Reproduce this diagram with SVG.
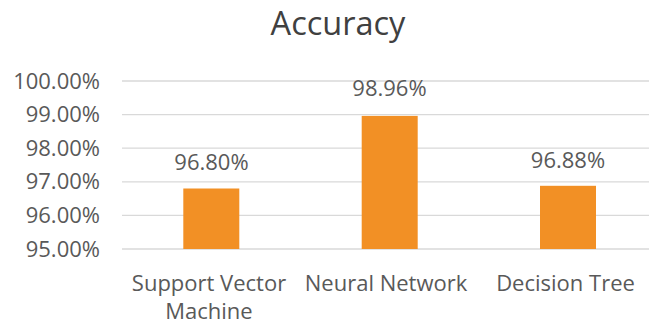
<svg xmlns="http://www.w3.org/2000/svg" width="649" height="326" viewBox="0 0 649 326">
<style>
.t{font-family:"Open Sans","Liberation Sans",sans-serif;fill:#595959;font-size:22px}
.grid line{stroke:#D9D9D9;stroke-width:1.3}
.bar{fill:#F29025}
.ttl{font-family:"Open Sans","Liberation Sans",sans-serif;fill:#404040;font-size:32.5px}
</style>
<rect width="649" height="326" fill="#fff"/>
<text class="ttl" x="338" y="35" text-anchor="middle">Accuracy</text>
<g class="grid">
<line x1="122" y1="81" x2="649" y2="81"/>
<line x1="122" y1="114.6" x2="649" y2="114.6"/>
<line x1="122" y1="148.2" x2="649" y2="148.2"/>
<line x1="122" y1="181.8" x2="649" y2="181.8"/>
<line x1="122" y1="215.4" x2="649" y2="215.4"/>
<line x1="122" y1="249" x2="649" y2="249"/>
</g>
<g id="yaxis" text-anchor="end">
<text class="t" x="100" y="88.5">100.00%</text>
<text class="t" x="100" y="122.1">99.00%</text>
<text class="t" x="100" y="155.7">98.00%</text>
<text class="t" x="100" y="189.3">97.00%</text>
<text class="t" x="100" y="222.9">96.00%</text>
<text class="t" x="100" y="256.5">95.00%</text>
</g>
<g id="svm">
<rect class="bar" x="183.3" y="188.5" width="56" height="60.5"/>
<text class="t" x="211.5" y="170" text-anchor="middle">96.80%</text>
<text class="t" x="209" y="291" text-anchor="middle">Support Vector</text>
<text class="t" x="209" y="319" text-anchor="middle">Machine</text>
</g>
<g id="nn">
<rect class="bar" x="361.7" y="115.9" width="56" height="133.1"/>
<text class="t" x="389.5" y="96" text-anchor="middle">98.96%</text>
<text class="t" x="386" y="291" text-anchor="middle">Neural Network</text>
</g>
<g id="dt">
<rect class="bar" x="540" y="185.8" width="56" height="63.2"/>
<text class="t" x="568" y="167.5" text-anchor="middle">96.88%</text>
<text class="t" x="565.5" y="291" text-anchor="middle">Decision Tree</text>
</g>
<g id="connectors"/>
</svg>
